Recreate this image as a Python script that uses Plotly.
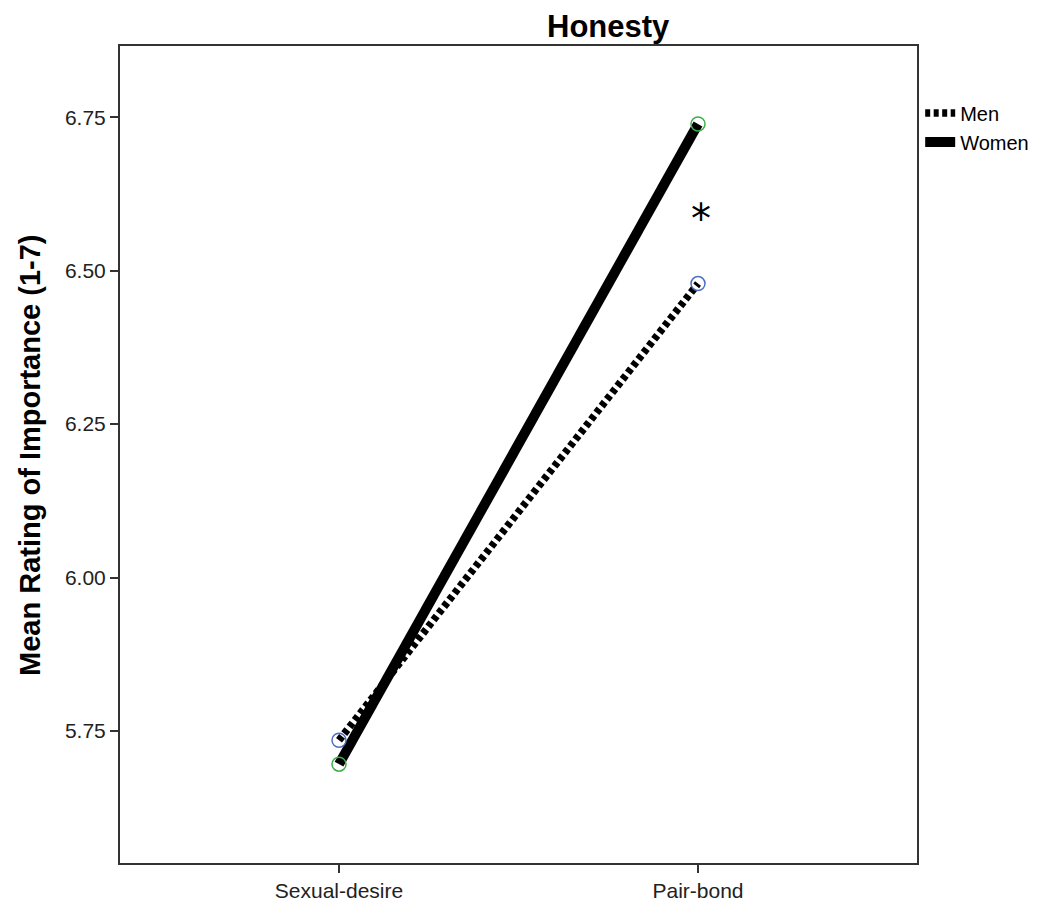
import plotly.graph_objects as go

categories = ["Sexual-desire", "Pair-bond"]
men = [5.735, 6.479]
women = [5.696, 6.739]
y_ticks = [5.75, 6.00, 6.25, 6.50, 6.75]
y_tick_labels = ["5.75", "6.00", "6.25", "6.50", "6.75"]
star_pos = ("Pair-bond", 6.594)

x_idx = list(range(len(categories)))

fig = go.Figure()
fig.add_trace(go.Scatter(
    x=x_idx, y=men, name="Men", mode="lines",
    line=dict(color="black", width=7.5, dash="5px,3.5px"),
))
fig.add_trace(go.Scatter(
    x=x_idx, y=women, name="Women", mode="lines",
    line=dict(color="black", width=10),
))
fig.add_trace(go.Scatter(
    x=x_idx, y=men, mode="markers", showlegend=False,
    marker=dict(symbol="circle-open", size=14, color="#4f6fc4", line=dict(width=1.5)),
))
fig.add_trace(go.Scatter(
    x=x_idx, y=women, mode="markers", showlegend=False,
    marker=dict(symbol="circle-open", size=14, color="#3fae4c", line=dict(width=1.5)),
))

fig.add_annotation(
    x=categories.index(star_pos[0]), y=star_pos[1], text="*", showarrow=False,
    font=dict(size=40, color="black", family="DejaVu Sans"), xref="x", yref="y",
    xshift=3, yshift=-6,
)
fig.add_annotation(
    x=(608 - 120) / 797, y=(863 - 27) / 817, xref="paper", yref="paper",
    xanchor="center", yanchor="middle",
    text="<b>Honesty</b>", showarrow=False,
    font=dict(size=31, color="black", family="Liberation Sans"),
)
fig.add_annotation(
    x=(30 - 120) / 797, y=(863 - 455) / 817, xref="paper", yref="paper",
    xanchor="center", yanchor="middle", textangle=-90,
    text="<b>Mean Rating of Importance (1-7)</b>", showarrow=False,
    font=dict(size=29, color="black", family="Liberation Sans"),
)

fig.update_layout(
    width=1046, height=907,
    margin=dict(l=112, r=137, t=38, b=52),
    paper_bgcolor="white", plot_bgcolor="white",
    font=dict(family="Liberation Sans", size=20, color="#222"),
    showlegend=True,
    legend=dict(
        x=1.004, y=0.942, xanchor="left", yanchor="top",
        font=dict(size=20, color="black"), tracegroupgap=0,
        itemwidth=30, bgcolor="rgba(0,0,0,0)",
    ),
    xaxis=dict(
        range=[-0.61, 1.61], tickvals=x_idx, ticktext=categories,
        showgrid=False, zeroline=False, showline=True, linecolor="#333",
        linewidth=2, mirror=True, ticks="outside", ticklen=8, tickwidth=2,
        tickcolor="#333", tickfont=dict(size=21, color="#222"),
    ),
    yaxis=dict(
        range=[5.535, 6.866], tickvals=y_ticks, ticktext=y_tick_labels,
        showgrid=False, zeroline=False, showline=True, linecolor="#333",
        linewidth=2, mirror=True, ticks="outside", ticklen=8, tickwidth=2,
        tickcolor="#333", tickfont=dict(size=21, color="#222"),
    ),
)

fig.write_html("out.html")
